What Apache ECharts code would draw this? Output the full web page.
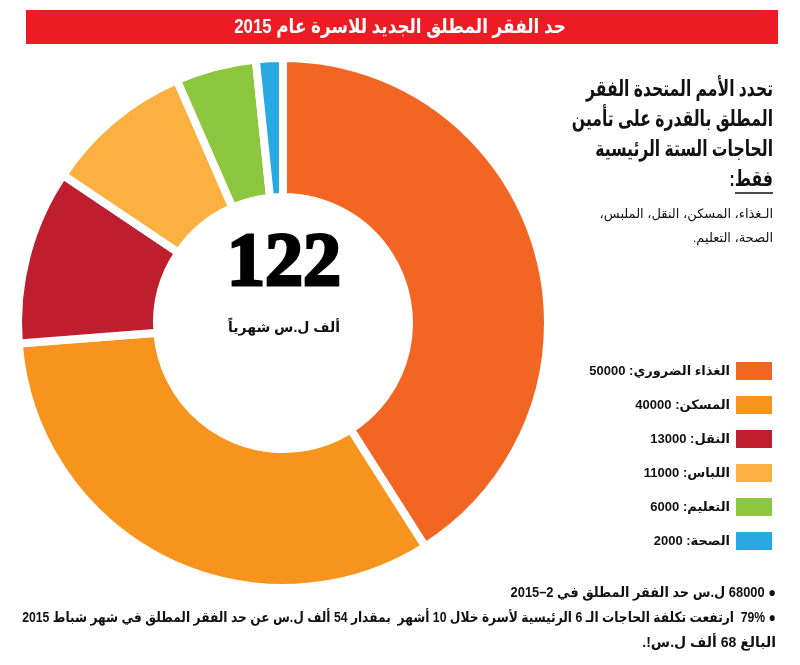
<!DOCTYPE html>
<html lang="ar">
<head>
<meta charset="utf-8">
<script src="https://cdn.jsdelivr.net/npm/echarts@6/dist/echarts.min.js"></script>
<style>
    html, body { margin: 0; padding: 0; background: #fff; }
    #chart { width: 800px; height: 665px; }
</style>
</head>
<body>
<div id="chart" dir="rtl"></div>
<script>
// بيانات الرسم
const categories = ['الغذاء الضروري', 'المسكن', 'النقل', 'اللباس', 'التعليم', 'الصحة'];
const values = [50000, 40000, 13000, 11000, 6000, 2000];
const colors = ['#F26522', '#F7941D', '#BE1E2D', '#FBB040', '#8DC63F', '#29A9E1'];

const titleText = 'حد الفقر المطلق الجديد للاسرة عام 2015';
const totalText = '122';
const totalUnit = 'ألف ل.س شهرياً';
const introLines = ['تحدد الأمم المتحدة الفقر', 'المطلق بالقدرة على تأمين', 'الحاجات الستة الرئيسية', 'فقط:'];
const needsLines = ['الـغذاء، المسكن، النقل، الملبس،', 'الصحة، التعليم.'];
const noteLines = [
    '● 68000 ل.س حد الفقر المطلق في 2–2015',
    '● 79%  ارتفعت تكلفة الحاجات الـ 6 الرئيسية لأسرة خلال 10 أشهر  بمقدار 54 ألف ل.س عن حد الفقر المطلق في شهر شباط 2015',
    'البالغ 68 ألف ل.س!.'
];

const FONT = '"Liberation Sans", "DejaVu Sans", sans-serif';

let pieData = categories.map((name, i) => ({
    name: name,
    value: values[i],
    itemStyle: { color: colors[i] }
}));

// نص عادي من عناصر graphic
function textEl(x, y, text, font, extra) {
    return Object.assign({
        type: 'text',
        x: x,
        y: y,
        style: Object.assign({
            text: text,
            font: font,
            fill: '#111',
            textAlign: 'right'
        }, (extra && extra.style) || {})
    }, (extra && extra.el) || {});
}

let option = {
    backgroundColor: '#fff',
    animation: false,
    legend: {
        orient: 'vertical',
        right: 26,
        top: 360,
        padding: 0,
        align: 'right',
        icon: 'rect',
        itemWidth: 38,
        itemHeight: 20,
        itemGap: 12,
        selectedMode: false,
        data: categories,
        formatter: function (name) {
            let i = categories.indexOf(name);
            return name + ': ' + values[i];
        },
        textStyle: {
            fontFamily: FONT,
            fontWeight: 'bold',
            fontSize: 13,
            color: '#111'
        }
    },
    series: [
        {
            type: 'pie',
            center: [283, 323],
            radius: [126, 265],
            startAngle: 90,
            clockwise: true,
            label: { show: false },
            labelLine: { show: false },
            emphasis: { disabled: true },
            itemStyle: {
                borderColor: '#fff',
                borderWidth: 8
            },
            data: pieData
        }
    ],
    graphic: [
        // شريط العنوان
        {
            type: 'rect',
            shape: { x: 26, y: 10, width: 752, height: 34 },
            style: { fill: '#ED1C24' }
        },
        textEl(400, 27, titleText, 'bold 20px ' + FONT, {
            style: { fill: '#fff', textAlign: 'center', textVerticalAlign: 'middle' },
            el: { scaleX: 0.84 }
        }),
        // الرقم في الوسط
        textEl(284, 265, totalText, 'bold 76px "Liberation Serif", serif', {
            style: {
                fill: '#000', stroke: '#000', lineWidth: 3,
                textAlign: 'center', textVerticalAlign: 'middle'
            }
        }),
        textEl(284, 328, totalUnit, 'bold 14px ' + FONT, {
            style: { textAlign: 'center', textVerticalAlign: 'middle' }
        }),
        // النص على اليمين
        textEl(773, 75, introLines.join('\n'), 'bold 22px ' + FONT, {
            style: { lineHeight: 30 },
            el: { scaleX: 0.71 }
        }),
        {
            type: 'line',
            shape: { x1: 735, y1: 193, x2: 773, y2: 193 },
            style: { stroke: '#111', lineWidth: 1.5 }
        },
        textEl(773, 202, needsLines.join('\n'), '13px ' + FONT, {
            style: { lineHeight: 24 }
        }),
        // الملاحظات في الأسفل
        textEl(776, 581, noteLines[0], 'bold 14px ' + FONT, {
            style: { lineHeight: 25 },
            el: { scaleX: 0.92 }
        }),
        textEl(776, 606, noteLines[1], 'bold 14px ' + FONT, {
            style: { lineHeight: 25 },
            el: { scaleX: 0.873 }
        }),
        textEl(776, 631, noteLines[2], 'bold 14px ' + FONT, {
            style: { lineHeight: 25 }
        })
    ]
};

let chart = echarts.init(document.getElementById('chart'));
chart.setOption(option);
</script>
</body>
</html>
